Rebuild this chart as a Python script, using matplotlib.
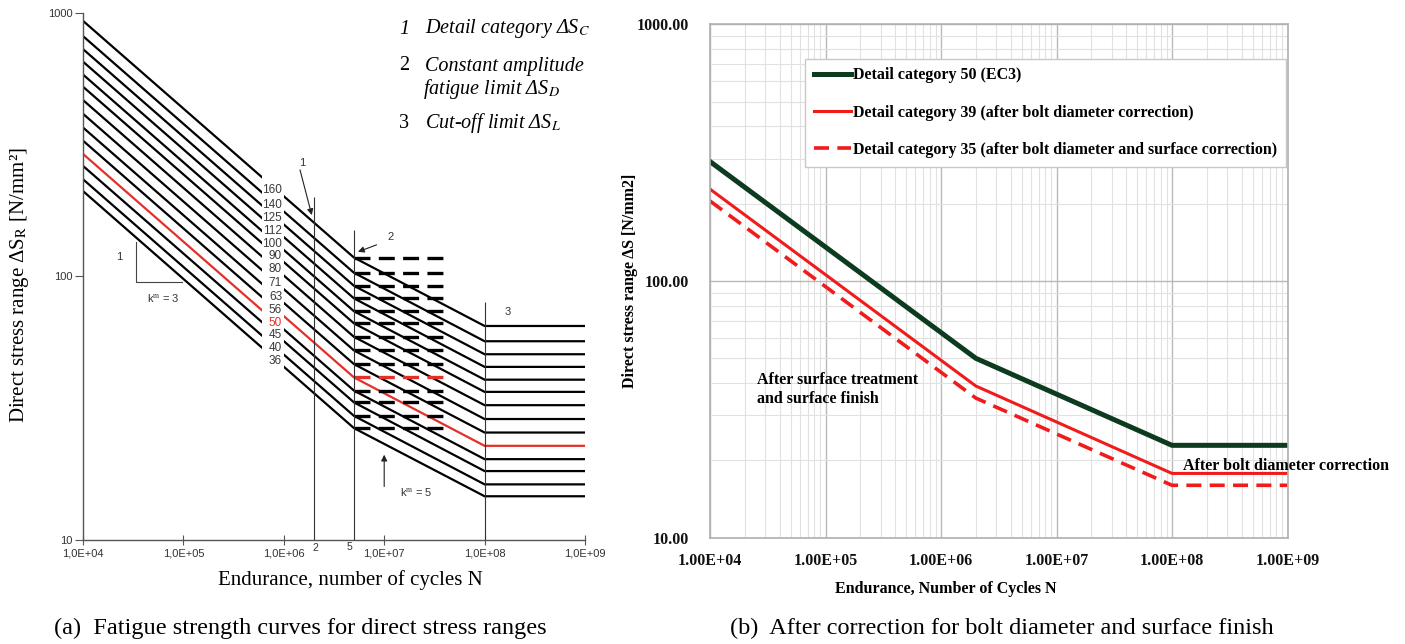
import matplotlib
matplotlib.use('Agg')
import matplotlib.pyplot as plt
import numpy as np
from matplotlib.transforms import Bbox, TransformedBbox
from matplotlib.ticker import FixedLocator, FuncFormatter, NullLocator, LogLocator, NullFormatter

plt.rcParams['font.family'] = 'Liberation Sans'
plt.rcParams['mathtext.fontset'] = 'stix'
plt.rcParams['lines.scale_dashes'] = False

SERIF = 'Liberation Serif'

# (a) EC3 detail categories, stress range at the break points of each curve
categories = [160, 140, 125, 112, 100, 90, 80, 71, 63, 56, 50, 45, 40, 36]
s_1e4 = [936, 819, 731, 655, 585, 526, 468, 415, 368, 328, 292, 263, 234, 211]
s_fatigue = [117.9, 103.2, 92.1, 82.5, 73.7, 66.3, 58.9, 52.3, 46.4, 41.3, 36.8, 33.2, 29.5, 26.5]
s_cutoff = [64.8, 56.7, 50.6, 45.3, 40.5, 36.4, 32.4, 28.7, 25.5, 22.7, 20.2, 18.2, 16.2, 14.6]
n_breaks = [1e4, 5e6, 1e8, 1e9]
n_dash_end = 3.9e7
n_gap = (6.0e5, 1.0e6)          # column left free for the category labels
red_left, red_right = 50, 56    # highlighted curve left / right of the labels

# (b) corrected curves
n_corr = [1e4, 2e6, 1e8, 1e9]
s_cat50 = [292, 50, 22.9, 22.9]
s_cat39 = [228, 39, 17.8, 17.8]
s_cat35 = [205, 35, 16.0, 16.0]

W, H = 1405, 644
fig = plt.figure(figsize=(W / 100, H / 100), dpi=100)


def px(x, y):
    return x / W, 1 - y / H


ax1 = fig.add_axes([83 / W, 1 - 539.5 / H, 502 / W, 526.2 / H])
ax2 = fig.add_axes([710 / W, 1 - 537.7 / H, 577.5 / W, 513.4 / H])

# ---------------- panel (a) ----------------
RED_A = '#e3302a'
ax1.set_xscale('log')
ax1.set_yscale('log')
ax1.set_xlim(1e4, 1e9)
ax1.set_ylim(10, 1000)

left_side = TransformedBbox(Bbox([[1e4, 1], [n_gap[0], 1e4]]), ax1.transData)
right_side = TransformedBbox(Bbox([[n_gap[1], 1], [1e9, 1e4]]), ax1.transData)

for cat, s0, sd, sl in zip(categories, s_1e4, s_fatigue, s_cutoff):
    s_curve = [s0, sd, sl, sl]
    c_left = RED_A if cat == red_left else 'black'
    c_right = RED_A if cat == red_right else 'black'
    for c, clip in ((c_left, left_side), (c_right, right_side)):
        ln, = ax1.plot(n_breaks, s_curve, color=c, lw=1.6, solid_joinstyle='miter')
        ln.set_clip_box(clip)
    # constant amplitude fatigue limit
    ax1.plot([n_breaks[1], n_dash_end], [sd, sd], color=c_right, lw=2.4,
             dashes=(11.5, 6), dash_capstyle='butt')
    y_lab = 10 ** np.interp(np.log10(8.5e5), np.log10(n_breaks[:2]), np.log10([s0, sd]))
    ax1.text(9.6e5, y_lab, str(cat), ha='right', va='center', fontsize=8.5,
             color=RED_A if cat == red_left else '#3a3a3a')

ax1.vlines([2e6, 5e6, 1e8], 10, [200, 150, 80], color='#333333', lw=0.8)

arrow = dict(arrowstyle='-|>', color='#222222', lw=0.8, mutation_scale=9, shrinkA=0, shrinkB=0)
ax1.annotate('', xy=(1.9e6, 171), xytext=(1.45e6, 254), arrowprops=arrow)
ax1.text(1.52e6, 269, '1', ha='center', va='center', fontsize=8, color='#333333')
ax1.annotate('', xy=(5.48e6, 124), xytext=(8.4e6, 131.8), arrowprops=arrow)
ax1.text(1.17e7, 141.7, '2', ha='center', va='center', fontsize=8, color='#333333')
ax1.text(1.7e8, 73.5, '3', ha='center', va='center', fontsize=8, color='#333333')
ax1.annotate('', xy=(1e7, 21.0), xytext=(1e7, 15.9), arrowprops=arrow)
ax1.text(2.07e7, 15.2, 'k$^\\mathrm{m}$ = 5', ha='center', va='center', fontsize=8, color='#333333')

# slope triangle
ax1.plot([3.37e4, 3.37e4, 9.6e4], [135.5, 95.5, 95.5], color='#444444', lw=0.8)
ax1.text(2.32e4, 118, '1', ha='center', va='center', fontsize=8, color='#333333')
ax1.text(6.27e4, 82.8, 'k$^\\mathrm{m}$ = 3', ha='center', va='center', fontsize=8, color='#333333')

for side in ['top', 'right']:
    ax1.spines[side].set_visible(False)
for side in ['left', 'bottom']:
    ax1.spines[side].set_color('#555555')
    ax1.spines[side].set_linewidth(1.0)
ax1.xaxis.set_major_locator(FixedLocator([1e4, 1e5, 1e6, 1e7, 1e8, 1e9]))
ax1.xaxis.set_minor_locator(NullLocator())
ax1.yaxis.set_major_locator(FixedLocator([10, 100, 1000]))
ax1.yaxis.set_minor_locator(NullLocator())
ax1.xaxis.set_major_formatter(FuncFormatter(lambda v, p: '{:.1E}'.format(v).replace('.', ',')))
ax1.yaxis.set_major_formatter(FuncFormatter(lambda v, p: '%d' % v))
ax1.tick_params(axis='x', direction='inout', length=7, width=0.8, color='#555555',
                labelsize=8, labelcolor='#333333', pad=3)
ax1.tick_params(axis='y', direction='out', length=6, width=0.8, color='#555555',
                labelsize=8, labelcolor='#333333', pad=1.5)

ax1.set_xlabel('Endurance, number of cycles N', family=SERIF, fontsize=15, va='center')
ax1.xaxis.set_label_coords((350 - 83) / 502, -(580 - 539.5) / 526.2)
ax1.set_ylabel('Direct stress range ΔS$_\\mathrm{R}$ [N/mm²]', family=SERIF, fontsize=15, va='center')
ax1.yaxis.set_label_coords((20 - 83) / 502, 1 - (285 - 13.3) / 526.2)

fig.text(*px(315, 548), '2', ha='center', va='center', fontsize=7.5, color='#333333')
fig.text(*px(349, 546.5), '5', ha='center', va='center', fontsize=7.5, color='#333333')

# key in the upper right
key_font = dict(family=SERIF, fontsize=14.5, va='center', ha='left')
fig.text(*px(399, 29), '1', style='italic', **key_font)
fig.text(*px(425, 29), 'Detail category ΔS$_C$', style='italic', **key_font)
fig.text(*px(399, 66), '2', **key_font)
fig.text(*px(425, 66), 'Constant amplitude', style='italic', **key_font)
fig.text(*px(423, 89), 'fatigue limit ΔS$_D$', style='italic', **key_font)
fig.text(*px(399, 123), '3', **key_font)
fig.text(*px(425, 123), 'Cut-off limit ΔS$_L$', style='italic', **key_font)

# ---------------- panel (b) ----------------
GREEN = '#0c3b20'
RED_B = '#f01c1c'
ax2.set_xscale('log')
ax2.set_yscale('log')
ax2.set_xlim(1e4, 1e9)
ax2.set_ylim(10, 1000)
ax2.set_axisbelow(True)

ax2.plot(n_corr, s_cat50, color=GREEN, lw=3.6, label='Detail category 50 (EC3)')
ax2.plot(n_corr, s_cat39, color=RED_B, lw=2.2,
         label='Detail category 39 (after bolt diameter correction)')
ax2.plot(n_corr, s_cat35, color=RED_B, lw=2.6, dashes=(10.8, 6), dash_capstyle='butt',
         label='Detail category 35 (after bolt diameter and surface correction)')

ax2.xaxis.set_major_locator(FixedLocator([1e4, 1e5, 1e6, 1e7, 1e8, 1e9]))
ax2.xaxis.set_minor_locator(LogLocator(base=10, subs=np.arange(2, 10), numticks=50))
ax2.yaxis.set_major_locator(FixedLocator([10, 100, 1000]))
ax2.yaxis.set_minor_locator(LogLocator(base=10, subs=np.arange(2, 10), numticks=50))
ax2.xaxis.set_minor_formatter(NullFormatter())
ax2.yaxis.set_minor_formatter(NullFormatter())
ax2.xaxis.set_major_formatter(FuncFormatter(lambda v, p: '{:.2E}'.format(v)))
ax2.yaxis.set_major_formatter(FuncFormatter(lambda v, p: '%.2f' % v))
ax2.grid(True, which='major', color='#b9b9b9', lw=1.0)
ax2.grid(True, which='minor', color='#e1e1e1', lw=0.8)
ax2.tick_params(which='both', length=0)
ax2.tick_params(axis='x', pad=11)
ax2.tick_params(axis='y', pad=15)
for lbl in ax2.get_xticklabels() + ax2.get_yticklabels():
    lbl.set_fontfamily(SERIF)
    lbl.set_fontweight('bold')
    lbl.set_fontsize(11.5)
    lbl.set_color('#111111')
for sp in ax2.spines.values():
    sp.set_color('#b0b0b0')
    sp.set_linewidth(1.2)

leg = ax2.legend(loc='upper left', bbox_to_anchor=((805 - 710) / 577.5, 1 - (58.5 - 24.3) / 513.4),
                 borderaxespad=0, fancybox=False, framealpha=1, edgecolor='#c8c8c8',
                 prop=dict(family=SERIF, weight='bold', size=11.5),
                 handlelength=2.3, handletextpad=0.15, labelspacing=1.33, borderpad=0.55)
leg.get_frame().set_linewidth(1.0)

ax2.text(2.53e4, 41.2, 'After surface treatment', family=SERIF, weight='bold',
         fontsize=11.5, ha='left', va='center')
ax2.text(2.53e4, 34.7, 'and surface finish', family=SERIF, weight='bold',
         fontsize=11.5, ha='left', va='center')
ax2.text(1.245e8, 19.08, 'After bolt diameter correction', family=SERIF, weight='bold',
         fontsize=11.5, ha='left', va='center', clip_on=False)

ax2.set_xlabel('Endurance, Number of Cycles N', family=SERIF, weight='bold', fontsize=11.5, va='center')
ax2.xaxis.set_label_coords((946 - 710) / 577.5, -(589 - 537.7) / 513.4)
ax2.set_ylabel('Direct stress range ΔS [N/mm2]', family=SERIF, weight='bold', fontsize=11.5, va='center')
ax2.yaxis.set_label_coords((630 - 710) / 577.5, 1 - (281 - 24.3) / 513.4)

# captions
fig.text(*px(300, 628), '(a)  Fatigue strength curves for direct stress ranges',
         family=SERIF, fontsize=17.5, ha='center', va='center')
fig.text(*px(1002, 628), '(b)  After correction for bolt diameter and surface finish',
         family=SERIF, fontsize=17.5, ha='center', va='center')

fig.savefig('out.png', dpi=100)
